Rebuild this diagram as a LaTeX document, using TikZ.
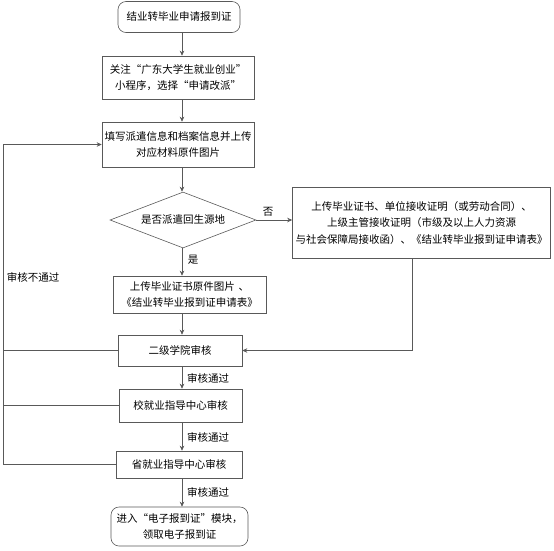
\documentclass[tikz,border=0pt]{standalone}
\usepackage{fontspec}
\newfontfamily\cjk{Noto Sans CJK SC}
\usetikzlibrary{shapes.geometric,arrows.meta}
\tikzset{
    box/.style={draw=black!65, line width=0.6pt, align=center, inner sep=1pt, font=\cjk\fontsize{10.5}{16.5}\selectfont},
    endbox/.style={box, rounded corners=8pt},
    decide/.style={box, diamond, aspect=2.6, inner sep=0pt},
    lbl/.style={font=\cjk\fontsize{10.5}{12}\selectfont, inner sep=0pt},
    arr/.style={draw=black!65, line width=0.6pt, -{Stealth[length=5pt,width=4.5pt]}},
    wire/.style={draw=black!65, line width=0.6pt}
}
\begin{document}
\begin{tikzpicture}[x=1pt, y=-1pt]
        \useasboundingbox (0,0) rectangle (554,550);
        % steps
        \node[endbox, minimum width=122pt, minimum height=31pt] (apply) at (179,17) {结业转毕业申请报到证};
        \node[box, minimum width=152pt, minimum height=43pt] (follow) at (178,77.5) {关注“广东大学生就业创业”\\小程序，选择“申请改派”};
        \node[box, minimum width=152pt, minimum height=45pt] (fill) at (178,144.5) {填写派遣信息和档案信息并上传\\对应材料原件图片};
        \node[decide, minimum width=146pt, minimum height=56pt] (origin) at (183,220) {是否派遣回生源地};
        \node[box, minimum width=258pt, minimum height=71pt] (other) at (421.5,223) {上传毕业证书、单位接收证明（或劳动合同）、\\上级主管接收证明（市级及以上人力资源\\与社会保障局接收函）、《结业转毕业报到证申请表》};
        \node[box, minimum width=153pt, minimum height=37pt] (upload) at (189.5,294.5) {上传毕业证书原件图片\hspace{4pt}、\\《结业转毕业报到证申请表》};
        \node[box, minimum width=124pt, minimum height=31pt] (college) at (180,350.5) {二级学院审核};
        \node[box, minimum width=123pt, minimum height=33pt] (school) at (180.5,405.5) {校就业指导中心审核};
        \node[box, minimum width=126pt, minimum height=27pt] (province) at (179,464.5) {省就业指导中心审核};
        \node[endbox, minimum width=137pt, minimum height=39pt] (done) at (179.5,526.5) {进入“电子报到证”模块，\\领取电子报到证};
        \coordinate (spine) at (182,0);
        \coordinate (loop) at (3,0);
        \coordinate (back) at (412,0);
        % connectors
        \draw[arr] (apply.south -| spine) -- (follow.north -| spine);
        \draw[arr] (follow.south -| spine) -- (fill.north -| spine);
        \draw[arr] (fill.south -| spine) -- (origin.north -| spine);
        \draw[arr] (origin.south -| spine) -- (upload.north -| spine);
        \draw[arr] (origin.east) -- (origin.east -| other.west);
        \draw[arr] (upload.south -| spine) -- (college.north -| spine);
        \draw[arr] (other.south -| back) |- (college.east);
        \draw[arr] (college.south -| spine) -- (school.north -| spine);
        \draw[arr] (school.south -| spine) -- (province.north -| spine);
        \draw[arr] (province.south -| spine) -- (done.north -| spine);
        \draw[arr] (province.west) -| (loop |- fill.west) -- (fill.west);
        \draw[wire] (college.west) -- (college.west -| loop);
        \draw[wire] (school.west) -- (school.west -| loop);
        % labels
        \node[lbl] (no) at (268,212) {否};
        \node[lbl] (yes) at (193,260) {是};
        \node[lbl] (fail) at (33,277) {审核不通过};
        \node[lbl] (pass1) at (208,378) {审核通过};
        \node[lbl] (pass2) at (208,437) {审核通过};
        \node[lbl] (pass3) at (208,492) {审核通过};
    \end{tikzpicture}
\end{document}
